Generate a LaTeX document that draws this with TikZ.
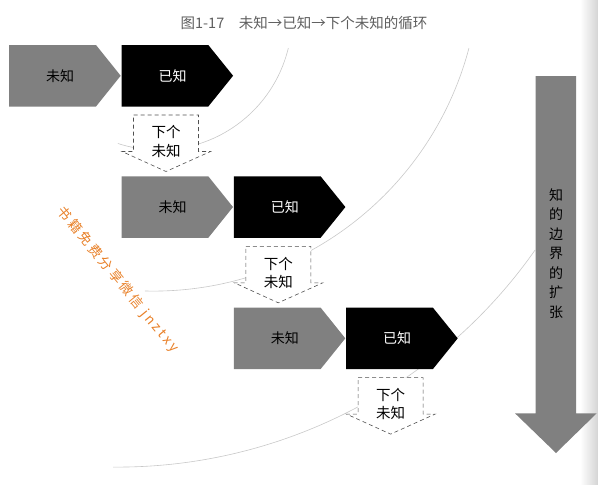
\documentclass[tikz,border=0pt]{standalone}
\usepackage{fontspec}
\setmainfont{Noto Sans CJK SC}
\newfontfamily\wmfont[LetterSpace=20]{Noto Sans CJK SC}
\definecolor{pgray}{RGB}{128,128,128}
\definecolor{titlegray}{RGB}{95,95,95}
\definecolor{arcgray}{RGB}{200,200,200}
\definecolor{dashgray}{RGB}{80,80,80}
\definecolor{edgegray}{RGB}{212,212,212}
\definecolor{wmorange}{RGB}{232,128,40}
\begin{document}
\begin{tikzpicture}[x=1pt,y=-1pt,
  lbl/.style={inner sep=0pt,font=\fontsize{14}{16}\selectfont},
  lbltwo/.style={inner sep=0pt,align=center,font=\fontsize{14.5}{18.5}\selectfont},
  arcline/.style={draw=arcgray,line width=0.6pt},
  dashbox/.style={draw=dashgray,fill=white,line width=0.6pt,dash pattern=on 4pt off 3pt},
]
\useasboundingbox (0,0) rectangle (598,485);
% page edge shadow
\fill[left color=white,right color=edgegray] (580,0) rectangle (598,485);
% arcs
\draw[arcline] (159,17) ++(13.5:133) arc[start angle=13.5,end angle=108,radius=133];
\draw[arcline] (153.4,-35.3) ++(14.8:326.4) arc[start angle=14.8,end angle=91.5,radius=326.4];
\draw[arcline] (117.6,-42.9) ++(35.06:510) arc[start angle=35.06,end angle=90.5,radius=510];
% rows
\foreach \i in {0,1,2}{
  \pgfmathsetmacro\GL{9.2+112.3*\i}
  \pgfmathsetmacro\BL{\GL+112.3}
  \pgfmathsetmacro\T{45+131.3*\i}
  \pgfmathsetmacro\B{\T+61.5}
  \pgfmathsetmacro\M{\T+30.75}
  \fill[pgray] (\GL,\T) -- ({\GL+86.8},\T) -- ({\GL+111.5},\M) -- ({\GL+86.8},\B) -- (\GL,\B) -- cycle;
  \fill[black] (\BL,\T) -- ({\BL+86.8},\T) -- ({\BL+111.6},\M) -- ({\BL+86.8},\B) -- (\BL,\B) -- cycle;
  \node[lbl] (g\i) at ({\GL+51},\M) {未知};
  \node[lbl,text=white] (k\i) at ({\BL+51},\M) {已知};
  \draw[dashbox] ({\BL+12},{\B+8.5}) -- ({\BL+77},{\B+8.5}) -- ({\BL+77},{\B+45}) -- ({\BL+89},{\B+45}) -- ({\BL+44.5},{\B+65}) -- ({\BL+0.5},{\B+45}) -- ({\BL+12},{\B+45}) -- cycle;
  \node[lbltwo] (n\i) at ({\BL+44.5},{\B+35}) {下个\\未知};
}
% big arrow
\fill[pgray] (535.7,76) -- (576,76) -- (576,413.3) -- (596.7,413.3) -- (556,453) -- (515,413.3) -- (535.7,413.3) -- cycle;
\node[lbltwo,font=\fontsize{14}{19.5}\selectfont] (ext) at (556,253.5) {知\\的\\边\\界\\的\\扩\\张};
% title
\node[inner sep=0pt,text=titlegray,font=\fontsize{14.5}{16}\selectfont] (title) at (304,23.5) {图1-17\hspace{1em}未知→已知→下个未知的循环};
% watermark
\node[inner sep=0pt,text=wmorange,rotate=-50.6,font=\wmfont\fontsize{13.5}{15}\selectfont] (wm) at (118,280) {书籍免费分享微信 jnztxy};
\end{tikzpicture}
\end{document}
